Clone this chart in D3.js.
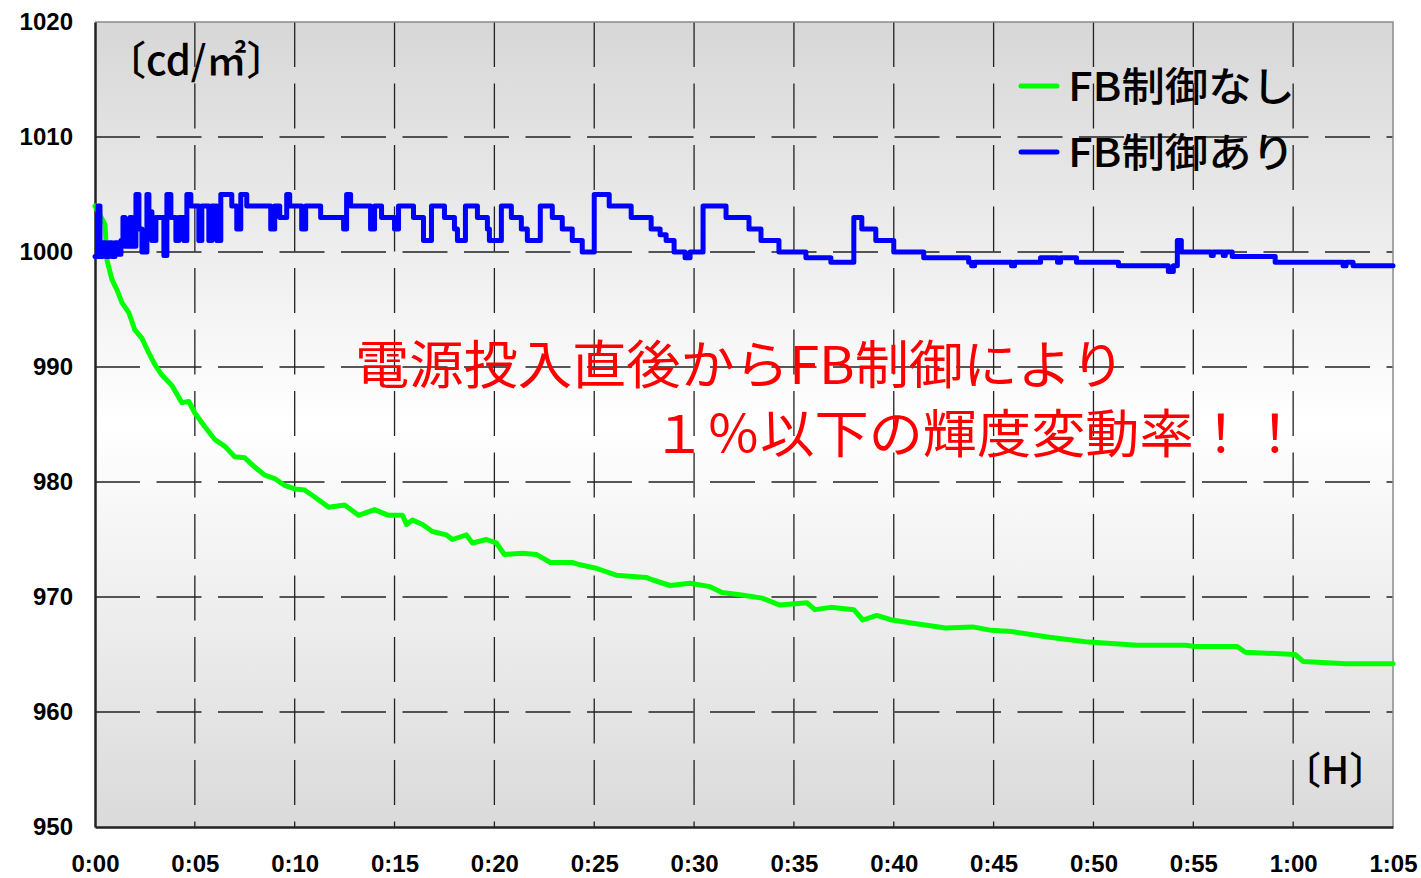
<!DOCTYPE html>
<html>
<head>
<meta charset="utf-8">
<script src="https://cdn.jsdelivr.net/npm/d3@7"></script>
<style>
  body { margin: 0; background: #fff; }
  .tick text { font-family: "Liberation Sans", Arial, sans-serif; font-weight: bold; font-size: 24px; fill: #000; }
  .jp { font-family: "Noto Sans CJK JP", sans-serif; }
</style>
</head>
<body>
<div id="chart"></div>
<script>
// chart size
const W = 1421, H = 878;
const margin = { top: 22, right: 28, bottom: 51, left: 95 };

// axis ticks
const yTickValues = [950, 960, 970, 980, 990, 1000, 1010, 1020];
const xTickValues = [0, 5, 10, 15, 20, 25, 30, 35, 40, 45, 50, 55, 60, 65];
const xTickLabels = ["0:00", "0:05", "0:10", "0:15", "0:20", "0:25", "0:30", "0:35", "0:40", "0:45", "0:50", "0:55", "1:00", "1:05"];

// FB制御なし (minutes, cd/m2)
const greenT = [0, 0.25, 0.5, 0.6, 0.85, 1.1, 1.35, 1.7, 2.0, 2.35, 2.7, 3.0, 3.35, 3.85, 4.35, 4.7, 5.0, 5.5, 6.0, 6.5,
  7.0, 7.5, 8.0, 8.5, 9.0, 9.5, 10.0, 10.5, 11.0, 11.7, 12.5, 13.2, 14.0, 14.7, 15.4, 15.6, 15.9, 16.4, 16.9, 17.6,
  17.9, 18.6, 18.9, 19.6, 20.1, 20.5, 21.4, 22.1, 22.8, 23.9, 24.3, 25.1, 26.1, 27.6, 27.9, 28.8, 29.8, 30.8, 31.4, 32.3,
  33.4, 34.3, 35.65, 36.05, 36.85, 38.0, 38.45, 39.15, 39.9, 41.05, 42.6, 43.95, 44.9, 45.9, 47.8, 49.6, 52.2, 54.6, 55.1, 57.2,
  57.6, 60.1, 60.5, 62.65, 65];
const greenV = [1004, 1003.2, 1002.4, 999.3, 997.6, 996.7, 995.6, 994.7, 993.2, 992.5, 991.2, 990.2, 989.3, 988.4, 986.9, 987.0, 986.0, 984.8, 983.7, 983.1,
  982.2, 982.1, 981.3, 980.6, 980.3, 979.7, 979.4, 979.3, 978.7, 977.8, 978.0, 977.1, 977.6, 977.1, 977.1, 976.3, 976.7, 976.3, 975.7, 975.4,
  975.0, 975.4, 974.7, 975.0, 974.7, 973.7, 973.8, 973.7, 973.0, 973.0, 972.8, 972.5, 971.9, 971.7, 971.5, 971.0, 971.2, 970.9, 970.4, 970.2,
  969.9, 969.3, 969.5, 968.9, 969.1, 968.9, 968.0, 968.4, 968.0, 967.7, 967.3, 967.4, 967.1, 967.0, 966.5, 966.1, 965.8, 965.8, 965.7, 965.7,
  965.2, 965.0, 964.4, 964.2, 964.2];

// FB制御あり (step changes: minutes, cd/m2)
const blueT = [0, 0.15, 0.25, 0.4, 0.55, 0.7, 0.85, 1.0, 1.15, 1.3, 1.4, 1.5, 1.75, 1.85, 2.05, 2.2, 2.35, 2.6, 2.7, 2.85,
  3.05, 3.45, 3.6, 3.8, 4.05, 4.2, 4.45, 4.6, 4.8, 5.2, 5.35, 5.7, 5.85, 6.1, 6.3, 6.85, 7.1, 7.3, 7.6, 8.8,
  9.0, 9.25, 9.6, 9.75, 10.35, 10.55, 11.3, 12.45, 12.6, 12.8, 13.8, 14.0, 14.35, 15.0, 15.2, 15.95, 16.45, 16.85, 17.5, 18.0,
  18.15, 18.55, 19.15, 19.65, 19.75, 20.35, 20.85, 21.35, 21.65, 22.3, 22.9, 23.4, 23.9, 24.4, 25.0, 25.75, 26.85, 27.85, 28.3, 28.6,
  29.0, 29.55, 29.8, 30.45, 31.6, 32.75, 33.35, 34.25, 35.6, 36.85, 38.0, 38.4, 39.1, 40.0, 41.5, 43.75, 43.9, 44.05, 45.9, 46.05,
  47.35, 48.2, 48.35, 49.15, 51.25, 53.75, 54.0, 54.2, 54.4, 55.9, 56.0, 56.5, 56.6, 56.95, 59.1, 62.5, 62.65, 63.0, 65];
const blueV = [999.6, 1004, 999.6, 1000.8, 999.6, 1000.8, 999.6, 1000.8, 999.8, 1001, 1003, 1000.5, 1003, 1000.5, 1005, 1002, 1000, 1005, 1003.5, 1001,
  1003, 999.7, 1005, 1003, 1001, 1003, 1001, 1005, 1004, 1001, 1004, 1001, 1004, 1001, 1005, 1004, 1002, 1005, 1004, 1002,
  1004, 1003, 1005, 1004, 1002, 1004, 1003, 1002, 1005, 1004, 1002, 1004, 1003, 1002, 1004, 1003, 1001, 1004, 1003, 1002,
  1001, 1004, 1003, 1002, 1001, 1004, 1003, 1002, 1001, 1004, 1003, 1002, 1001, 1000, 1005, 1004, 1003, 1002, 1001.5, 1001,
  1000, 999.5, 1000, 1004, 1003, 1002, 1001, 1000, 999.5, 999.1, 1003, 1002, 1001, 1000, 999.5, 999.1, 998.8, 999.1, 998.8, 999.1,
  999.5, 999.1, 999.5, 999.1, 998.8, 998.3, 998.8, 1001, 1000, 999.7, 1000, 999.7, 1000, 999.6, 999.1, 998.8, 999.1, 998.8, 998.8];

const svg = d3.select("#chart").append("svg").attr("width", W).attr("height", H);

const x = d3.scaleLinear().domain([0, 65]).range([margin.left, W - margin.right]);
const y = d3.scaleLinear().domain([950, 1020]).range([H - margin.bottom, margin.top]);

// plot background gradient
const grad = svg.append("defs").append("linearGradient")
  .attr("id", "bg").attr("x1", 0).attr("y1", 0).attr("x2", 0).attr("y2", 1);
grad.append("stop").attr("offset", "0%").attr("stop-color", "#d7d7d7");
grad.append("stop").attr("offset", "50%").attr("stop-color", "#ffffff");
grad.append("stop").attr("offset", "100%").attr("stop-color", "#dadada");

svg.append("rect")
  .attr("x", x(0)).attr("y", y(1020))
  .attr("width", x(65) - x(0)).attr("height", y(950) - y(1020))
  .attr("fill", "url(#bg)");

// grid
svg.append("g").selectAll("line")
  .data(yTickValues.filter(d => d > 950 && d < 1020))
  .join("line")
  .attr("x1", x(0)).attr("x2", x(65))
  .attr("y1", d => y(d)).attr("y2", d => y(d))
  .attr("stroke", "#222").attr("stroke-width", 1.3)
  .attr("stroke-dasharray", "45,16.5");

svg.append("g").selectAll("line")
  .data(xTickValues.filter(d => d > 0 && d < 65))
  .join("line")
  .attr("x1", d => x(d)).attr("x2", d => x(d))
  .attr("y1", y(1020)).attr("y2", y(950))
  .attr("stroke", "#222").attr("stroke-width", 1.3)
  .attr("stroke-dasharray", "45,16.5");

// top / right frame
svg.append("path")
  .attr("d", `M${x(0)},${y(1020)}H${x(65)}V${y(950)}`)
  .attr("fill", "none").attr("stroke", "#8c8c8c").attr("stroke-width", 1.5);

// axes
const yAxis = svg.append("g")
  .attr("transform", `translate(${x(0)},0)`)
  .call(d3.axisLeft(y).tickValues(yTickValues).tickSize(0).tickPadding(22).tickFormat(d3.format("d")));
yAxis.select(".domain").attr("stroke", "#222").attr("stroke-width", 2.5);

const xAxis = svg.append("g")
  .attr("transform", `translate(0,${y(950)})`)
  .call(d3.axisBottom(x).tickValues(xTickValues).tickSize(0).tickPadding(28)
    .tickFormat((d, i) => xTickLabels[i]));
xAxis.select(".domain").attr("stroke", "#222").attr("stroke-width", 2.5);

// series
const green = greenT.map((t, i) => [t, greenV[i]]);
const blue = blueT.map((t, i) => [t, blueV[i]]);

svg.append("path")
  .datum(green)
  .attr("fill", "none").attr("stroke", "#00ff00").attr("stroke-width", 5)
  .attr("stroke-linejoin", "round").attr("stroke-linecap", "round")
  .attr("d", d3.line().x(d => x(d[0])).y(d => y(d[1])));

svg.append("path")
  .datum(blue)
  .attr("fill", "none").attr("stroke", "#0000ff").attr("stroke-width", 5)
  .attr("stroke-linejoin", "round").attr("stroke-linecap", "round")
  .attr("d", d3.line().curve(d3.curveStepAfter).x(d => x(d[0])).y(d => y(d[1])));

// unit labels (full-width brackets carry empty half-em on the outside)
svg.append("text").attr("class", "jp")
  .attr("x", 106).attr("y", 75)
  .attr("font-size", 40).attr("font-weight", 500)
  .text("〔cd/㎡〕");

svg.append("text").attr("class", "jp")
  .attr("x", 1283).attr("y", 784)
  .attr("font-size", 38).attr("font-weight", 500)
  .text("〔H〕");

// legend
const legendItems = [
  { name: "FB制御なし", color: "#00ff00", y: 86 },
  { name: "FB制御あり", color: "#0000ff", y: 152 }
];
const legend = svg.append("g");
legendItems.forEach(item => {
  legend.append("line")
    .attr("x1", 1021).attr("x2", 1057)
    .attr("y1", item.y).attr("y2", item.y)
    .attr("stroke", item.color).attr("stroke-width", 5).attr("stroke-linecap", "round");
  legend.append("text").attr("class", "jp")
    .attr("x", 1068).attr("y", item.y + 15)
    .attr("font-size", 40).attr("font-weight", 500)
    .attr("textLength", 227).attr("lengthAdjust", "spacingAndGlyphs")
    .attr("fill", "#000")
    .text(item.name);
});

// annotation
svg.append("text").attr("class", "jp")
  .attr("x", 355).attr("y", 384)
  .attr("font-size", 52).attr("textLength", 770).attr("lengthAdjust", "spacingAndGlyphs")
  .attr("fill", "#ff0000")
  .text("電源投入直後からFB制御により");
svg.append("text").attr("class", "jp")
  .attr("x", 652).attr("y", 453)
  .attr("font-size", 52).attr("textLength", 650).attr("lengthAdjust", "spacingAndGlyphs")
  .attr("fill", "#ff0000")
  .text("１％以下の輝度変動率！！");
</script>
</body>
</html>
